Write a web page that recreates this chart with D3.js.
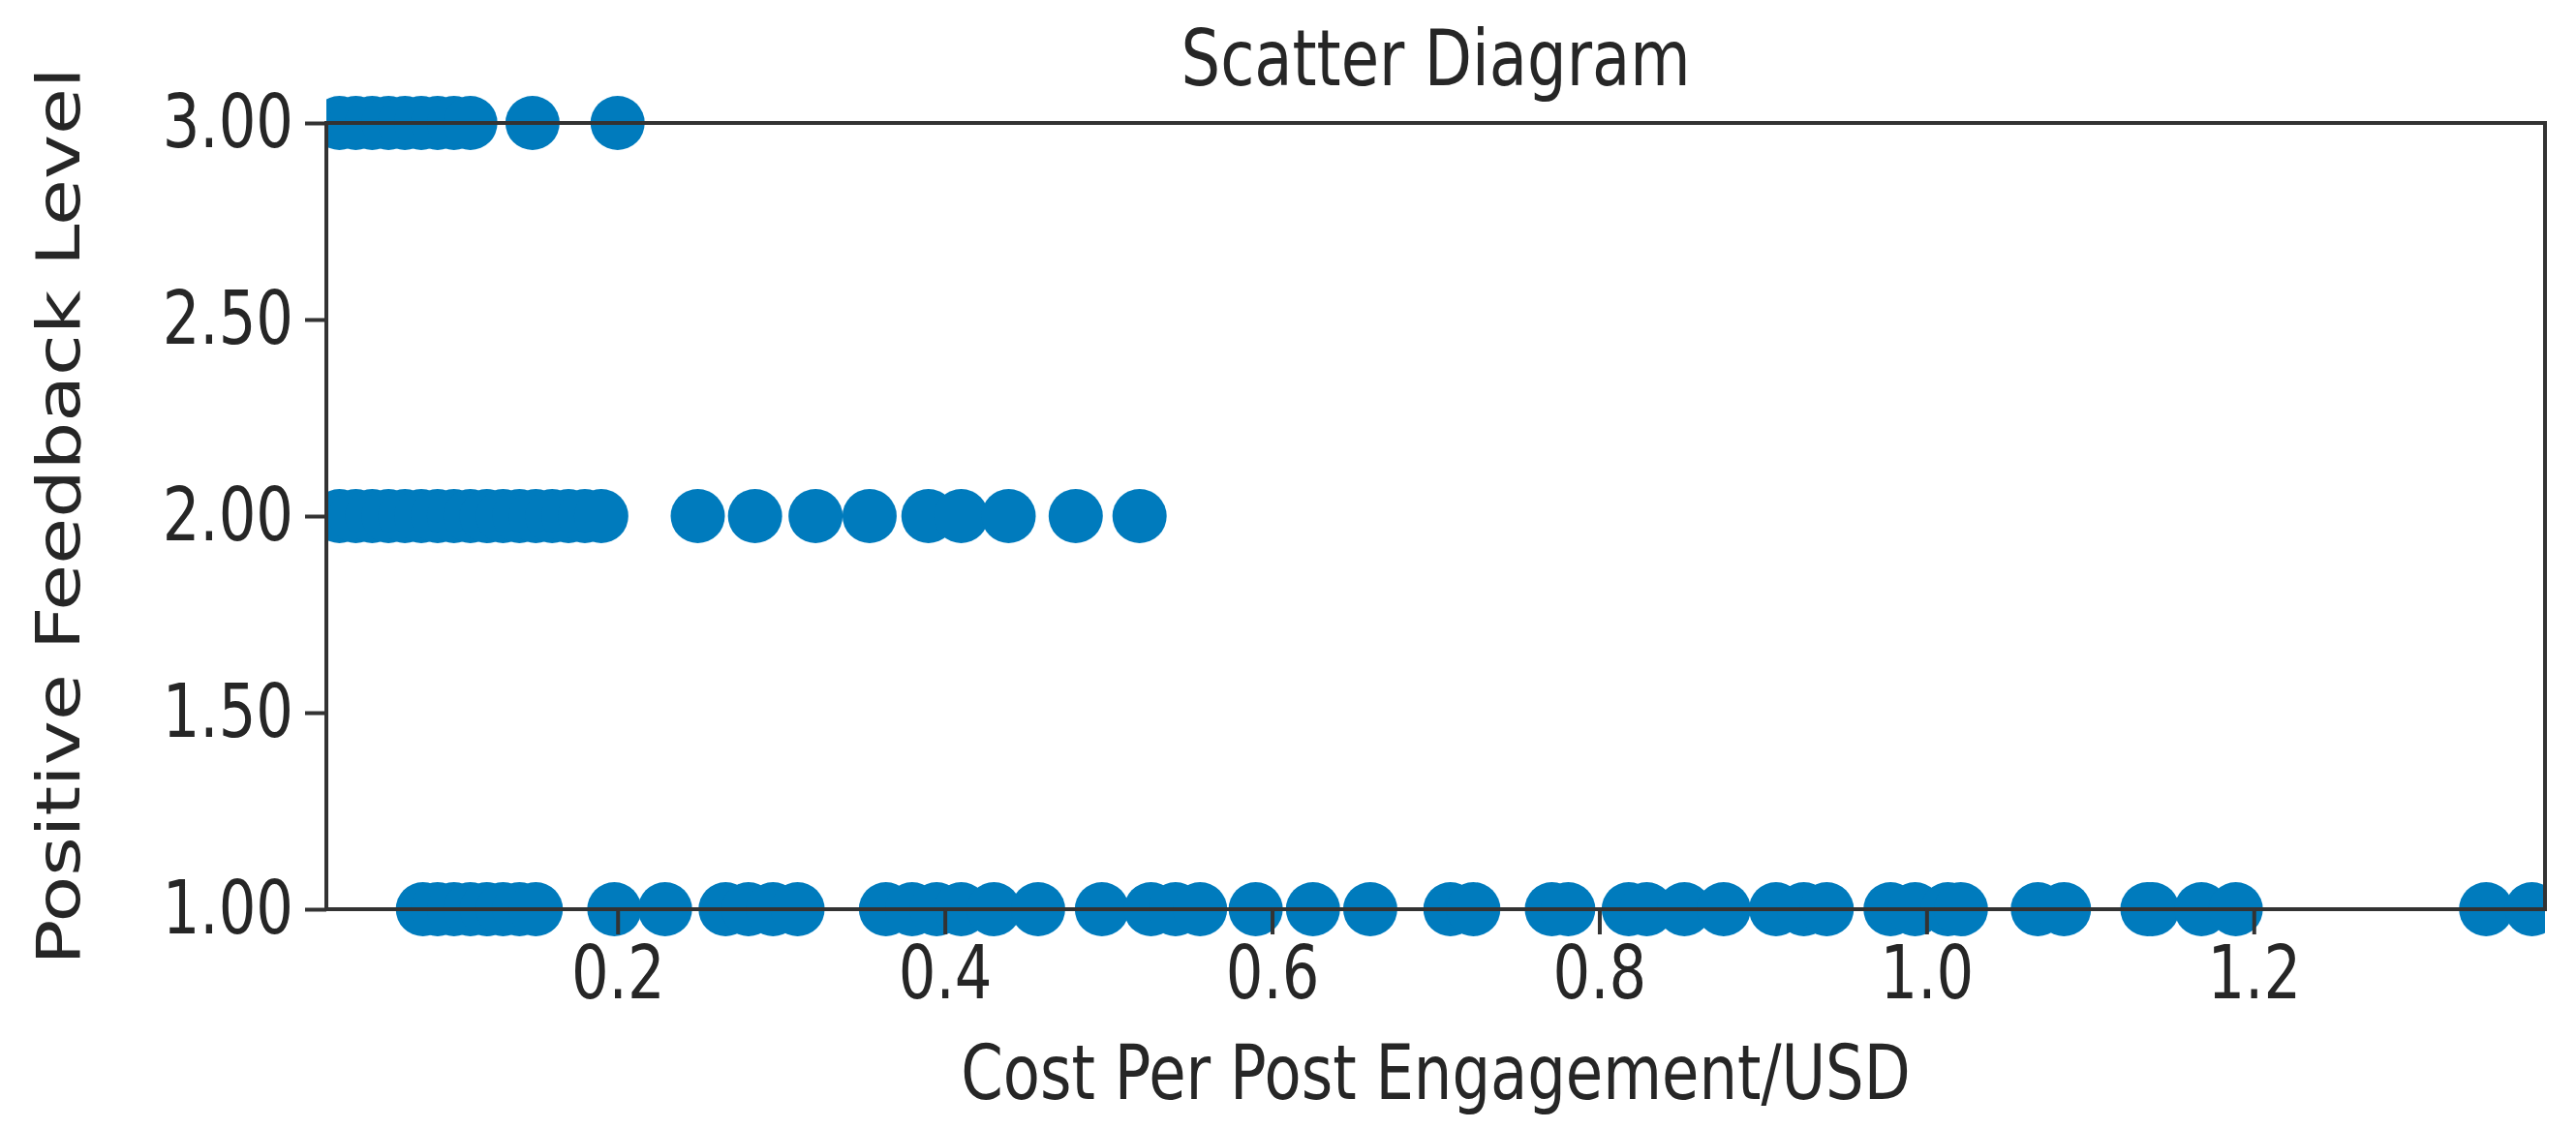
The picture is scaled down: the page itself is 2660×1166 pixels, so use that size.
<!DOCTYPE html>
<html>
<head>
<meta charset="utf-8">
<script src="https://cdn.jsdelivr.net/npm/d3@7"></script>
<style>
  body { margin: 0; background: #fff; }
  text { font-family: "DejaVu Sans", sans-serif; fill: #262626; }
</style>
</head>
<body>
<svg id="chart" width="2660" height="1166"></svg>
<script>
// values
const level3 = [0.03, 0.04, 0.05, 0.06, 0.07, 0.08, 0.09, 0.10, 0.11, 0.148, 0.2];
const level2 = [0.03, 0.04, 0.05, 0.06, 0.07, 0.08, 0.09, 0.10, 0.11, 0.12, 0.13, 0.14, 0.15, 0.16, 0.17, 0.18, 0.19,
  0.249, 0.284, 0.321, 0.354, 0.39, 0.41, 0.439, 0.48, 0.519];
const level1 = [0.081, 0.09, 0.10, 0.11, 0.12, 0.13, 0.14, 0.15, 0.198, 0.229, 0.266, 0.28, 0.295, 0.31,
  0.364, 0.38, 0.395, 0.41, 0.43, 0.457, 0.496, 0.526, 0.541, 0.556, 0.59, 0.625, 0.66, 0.709, 0.723,
  0.771, 0.781, 0.818, 0.829, 0.852, 0.876, 0.908, 0.925, 0.939, 0.978, 0.993, 1.013, 1.021,
  1.068, 1.084, 1.135, 1.138, 1.168, 1.189, 1.342, 1.37];
const xTicks = [0.2, 0.4, 0.6, 0.8, 1.0, 1.2];
const yTicks = [1.0, 1.5, 2.0, 2.5, 3.0];

const points = [];
level1.forEach(v => points.push({x: v, y: 1}));
level2.forEach(v => points.push({x: v, y: 2}));
level3.forEach(v => points.push({x: v, y: 3}));

const svg = d3.select("#chart");
const plotLeft = 337, plotRight = 2628, plotTop = 127, plotBottom = 939;
const squish = 0.8; // reference text is horizontally condensed

const x = d3.scaleLinear().domain([0.022, 1.378]).range([plotLeft, plotRight]);
const y = d3.scaleLinear().domain([1, 3]).range([plotBottom, plotTop]);

svg.append("clipPath").attr("id", "plot")
  .append("rect").attr("x", plotLeft).attr("y", plotTop - 40)
  .attr("width", plotRight - plotLeft).attr("height", plotBottom - plotTop + 80);

svg.append("g").attr("clip-path", "url(#plot)")
  .selectAll("circle").data(points).join("circle")
  .attr("cx", d => x(d.x)).attr("cy", d => y(d.y))
  .attr("r", 28).attr("fill", "#007bbd");

// frame
svg.append("rect").attr("x", plotLeft).attr("y", plotTop)
  .attr("width", plotRight - plotLeft).attr("height", plotBottom - plotTop)
  .attr("fill", "none").attr("stroke", "#333").attr("stroke-width", 4);

// x axis
const xg = svg.append("g").attr("transform", `translate(0,${plotBottom})`)
  .call(d3.axisBottom(x).tickValues(xTicks).tickFormat(d3.format(".1f")).tickSize(26).tickPadding(12));
xg.select(".domain").remove();
xg.selectAll("line").attr("stroke", "#333").attr("stroke-width", 4);
xg.selectAll("text").attr("font-size", 76).attr("fill", "#262626")
  .attr("transform", `scale(${squish},1)`);

// y axis
const yg = svg.append("g").attr("transform", `translate(${plotLeft},0)`)
  .call(d3.axisLeft(y).tickValues(yTicks).tickFormat(d3.format(".2f")).tickSize(22).tickPadding(10));
yg.select(".domain").remove();
yg.selectAll("line").attr("stroke", "#333").attr("stroke-width", 4);
yg.selectAll("text").attr("font-size", 76).attr("fill", "#262626")
  .attr("transform", `scale(${squish},1)`)
  .attr("x", -34 / squish);

// titles
svg.append("text").attr("transform", `translate(${(plotLeft + plotRight) / 2},88) scale(${squish},1)`)
  .attr("text-anchor", "middle").attr("font-size", 80).text("Scatter Diagram");
svg.append("text").attr("transform", `translate(${(plotLeft + plotRight) / 2},1135) scale(${squish},1)`)
  .attr("text-anchor", "middle").attr("font-size", 78).text("Cost Per Post Engagement/USD");
svg.append("text").attr("transform", `translate(82,${(plotTop + plotBottom) / 2}) rotate(-90) scale(1,${squish})`)
  .attr("text-anchor", "middle").attr("font-size", 78).text("Positive Feedback Level");
</script>
</body>
</html>
